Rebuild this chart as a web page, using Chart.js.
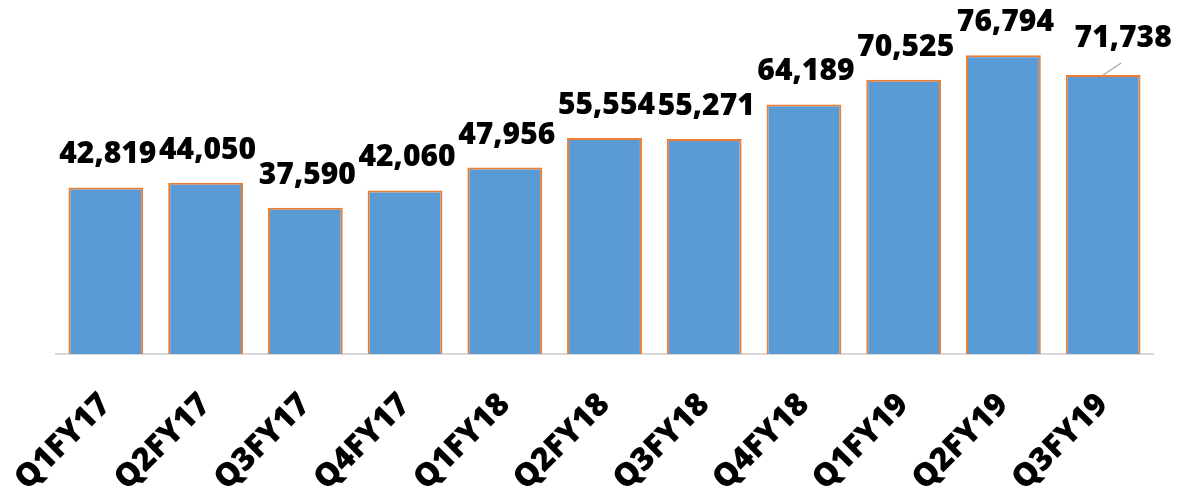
<!DOCTYPE html>
<html>
<head>
<meta charset="utf-8">
<script src="https://cdn.jsdelivr.net/npm/chart.js@4"></script>
<style>
  body { margin: 0; background: #fff; }
</style>
</head>
<body>
<canvas id="chart" width="1201" height="492"></canvas>
<script>
const quarters = ["Q1FY17", "Q2FY17", "Q3FY17", "Q4FY17", "Q1FY18", "Q2FY18",
  "Q3FY18", "Q4FY18", "Q1FY19", "Q2FY19", "Q3FY19"];
const values = [42819, 44050, 37590, 42060, 47956, 55554, 55271, 64189, 70525, 76794, 71738];

const FONT = "'Open Sans', sans-serif";

// labels above bars, last one pulled aside with a leader line
const barLabels = {
  id: "barLabels",
  afterDatasetsDraw(chart) {
    const ctx = chart.ctx;
    const bars = chart.getDatasetMeta(0).data;
    ctx.save();
    ctx.font = "800 30px " + FONT;
    ctx.fillStyle = "#000";
    ctx.textAlign = "center";
    ctx.textBaseline = "alphabetic";
    bars.forEach((bar, i) => {
      const txt = values[i].toLocaleString("en-US");
      let x = bar.x + 2;
      let y = bar.y - 24;
      if (i === bars.length - 1) {
        x = bar.x + 20;
        y = bar.y - 28;
        ctx.strokeStyle = "#A6A6A6";
        ctx.lineWidth = 1.2;
        ctx.beginPath();
        ctx.moveTo(bar.x, bar.y);
        ctx.lineTo(bar.x + 18, bar.y - 12);
        ctx.stroke();
      }
      ctx.fillText(txt, x, y);
    });
    ctx.restore();
  }
};

new Chart(document.getElementById("chart"), {
  type: "bar",
  data: {
    labels: quarters,
    datasets: [{
      data: values,
      backgroundColor: "#5B9BD5",
      borderColor: "#ED7D31",
      borderWidth: 2,
      barPercentage: 0.75,
      categoryPercentage: 1
    }]
  },
  options: {
    responsive: false,
    animation: false,
    layout: { padding: { top: 4, left: 56, right: 48, bottom: 0 } },
    plugins: { legend: { display: false }, tooltip: { enabled: false } },
    scales: {
      x: {
        grid: { display: false },
        border: { color: "#D9D9D9", width: 2 },
        ticks: {
          color: "#000",
          font: { family: FONT, weight: "800", size: 32 },
          minRotation: 45,
          maxRotation: 45,
          padding: 24
        },
        afterFit(scale) {
          scale.height = 138;
          scale.paddingLeft = 0;
          scale.paddingRight = 0;
        }
      },
      y: {
        display: false,
        min: 0,
        max: 90000
      }
    }
  },
  plugins: [barLabels]
});
</script>
</body>
</html>
